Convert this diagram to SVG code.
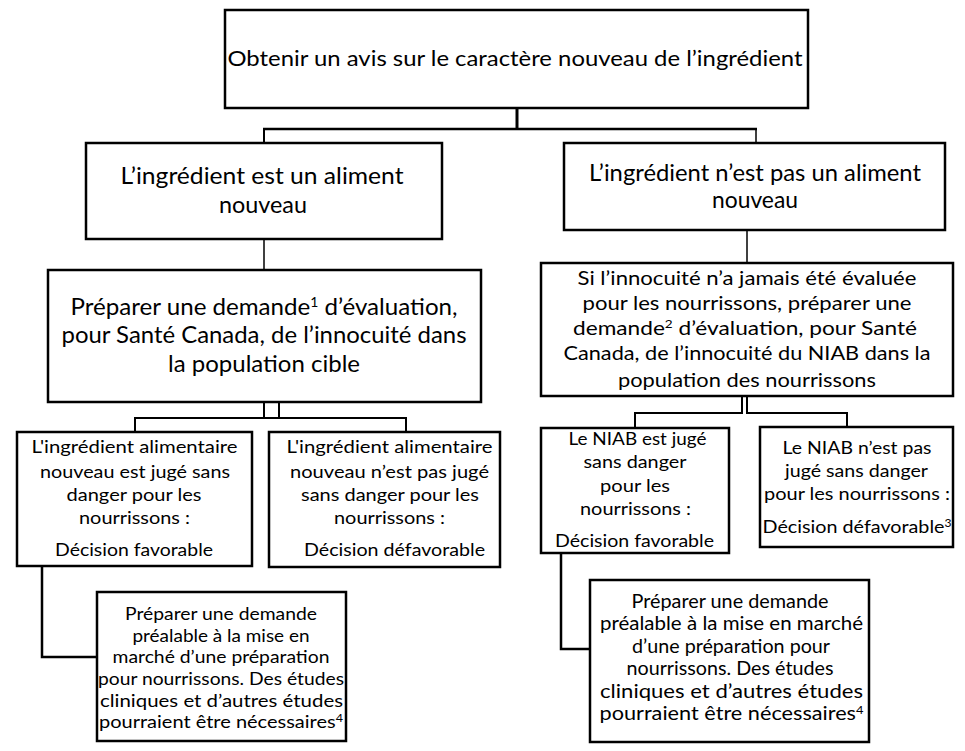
<svg xmlns="http://www.w3.org/2000/svg" width="965" height="751" viewBox="0 0 965 751">
<style>
.box{fill:#fff;stroke:#000;stroke-width:2.5}
.t{font-family:Lato,"Open Sans",sans-serif;fill:#000;text-anchor:middle}
.c{fill:none;stroke:#000;stroke-width:2}
.f21{font-size:21px}.f23{font-size:23px}.f225{font-size:22.5px}.f20{font-size:20px}.f18{font-size:18px}.f175{font-size:17.5px}.f185{font-size:18.5px}
</style>
<rect width="965" height="751" fill="#fff"/>
<g id="connectors">
<line class="c" x1="517" y1="108" x2="517" y2="129" style="stroke-width:3"/>
<line class="c" x1="263" y1="129" x2="757" y2="129" style="stroke-width:2.5"/>
<line class="c" x1="264" y1="129" x2="264" y2="143"/>
<line class="c" x1="756" y1="129" x2="756" y2="143" style="stroke-width:1.5"/>
<line class="c" x1="264" y1="239" x2="264" y2="270" style="stroke-width:1.5"/>
<line class="c" x1="747" y1="230" x2="747" y2="263" style="stroke-width:1.5"/>
<polyline class="c" points="264,402 264,418 135,418 135,432"/>
<polyline class="c" points="279,402 279,418 406,418 406,432"/>
<line class="c" x1="264" y1="418" x2="279" y2="418"/>
<polyline class="c" points="742,396 742,413 635,413 635,428"/>
<polyline class="c" points="747,396 747,413 847,413 847,427"/>
<polyline class="c" points="42,566 42,657 97,657" style="stroke-width:2.5"/>
<polyline class="c" points="561,553 561,649 590,649" style="stroke-width:2.5"/>
</g>
<g id="n1">
<rect class="box" x="225" y="10" width="583" height="98"/>
<text class="t f21" x="515" y="66" textLength="575" lengthAdjust="spacingAndGlyphs">Obtenir un avis sur le caractère nouveau de l’ingrédient</text>
</g>
<g id="n2a">
<rect class="box" x="86" y="143" width="356" height="96"/>
<text class="t f23" x="262" y="184" textLength="283" lengthAdjust="spacingAndGlyphs">L’ingrédient est un aliment</text>
<text class="t f23" x="263" y="213" textLength="88" lengthAdjust="spacingAndGlyphs">nouveau</text>
</g>
<g id="n2b">
<rect class="box" x="564" y="143" width="381" height="87"/>
<text class="t f23" x="755" y="181" textLength="332" lengthAdjust="spacingAndGlyphs">L’ingrédient n’est pas un aliment</text>
<text class="t f23" x="755" y="208" textLength="86" lengthAdjust="spacingAndGlyphs">nouveau</text>
</g>
<g id="n3a">
<rect class="box" x="48" y="270" width="433" height="132"/>
<text class="t f225" x="264" y="315" textLength="387" lengthAdjust="spacingAndGlyphs">Préparer une demande<tspan dy="-8" font-size="13">1</tspan><tspan dy="8"> d’évaluation,</tspan></text>
<text class="t f225" x="264" y="343" textLength="405" lengthAdjust="spacingAndGlyphs">pour Santé Canada, de l’innocuité dans</text>
<text class="t f225" x="264" y="372" textLength="192" lengthAdjust="spacingAndGlyphs">la population cible</text>
</g>
<g id="n3b">
<rect class="box" x="541" y="263" width="412" height="133"/>
<text class="t f20" x="747" y="285" textLength="339" lengthAdjust="spacingAndGlyphs">Si l’innocuité n’a jamais été évaluée</text>
<text class="t f20" x="747" y="310" textLength="329" lengthAdjust="spacingAndGlyphs">pour les nourrissons, préparer une</text>
<text class="t f20" x="745" y="335" textLength="344" lengthAdjust="spacingAndGlyphs">demande<tspan dy="-7" font-size="12">2</tspan><tspan dy="7"> d’évaluation, pour Santé</tspan></text>
<text class="t f20" x="747" y="360" textLength="367" lengthAdjust="spacingAndGlyphs">Canada, de l’innocuité du NIAB dans la</text>
<text class="t f20" x="747" y="387" textLength="258" lengthAdjust="spacingAndGlyphs">population des nourrissons</text>
</g>
<g id="n4a">
<rect class="box" x="17" y="432" width="235" height="134"/>
<text class="t f18" x="134.5" y="453" textLength="206" lengthAdjust="spacingAndGlyphs">L'ingrédient alimentaire</text>
<text class="t f18" x="135" y="478" textLength="190" lengthAdjust="spacingAndGlyphs">nouveau est jugé sans</text>
<text class="t f18" x="134" y="501" textLength="135" lengthAdjust="spacingAndGlyphs">danger pour les</text>
<text class="t f18" x="134.5" y="524" textLength="111" lengthAdjust="spacingAndGlyphs">nourrissons :</text>
<text class="t f18" x="134" y="556" textLength="158" lengthAdjust="spacingAndGlyphs">Décision favorable</text>
</g>
<g id="n4b">
<rect class="box" x="269" y="432" width="231" height="135"/>
<text class="t f18" x="389.5" y="453" textLength="206" lengthAdjust="spacingAndGlyphs">L'ingrédient alimentaire</text>
<text class="t f18" x="389.5" y="478" textLength="199" lengthAdjust="spacingAndGlyphs">nouveau n’est pas jugé</text>
<text class="t f18" x="390" y="501" textLength="178" lengthAdjust="spacingAndGlyphs">sans danger pour les</text>
<text class="t f18" x="389.5" y="524" textLength="111" lengthAdjust="spacingAndGlyphs">nourrissons :</text>
<text class="t f18" x="394.5" y="556" textLength="181" lengthAdjust="spacingAndGlyphs">Décision défavorable</text>
</g>
<g id="n4c">
<rect class="box" x="541" y="428" width="188" height="125"/>
<text class="t f18" x="637.5" y="445" textLength="138" lengthAdjust="spacingAndGlyphs">Le NIAB est jugé</text>
<text class="t f18" x="635" y="468" textLength="103" lengthAdjust="spacingAndGlyphs">sans danger</text>
<text class="t f18" x="635" y="492" textLength="70" lengthAdjust="spacingAndGlyphs">pour les</text>
<text class="t f18" x="635.5" y="515" textLength="111" lengthAdjust="spacingAndGlyphs">nourrissons :</text>
<text class="t f18" x="634.5" y="547" textLength="159" lengthAdjust="spacingAndGlyphs">Décision favorable</text>
</g>
<g id="n4d">
<rect class="box" x="760" y="427" width="193" height="120"/>
<text class="t f18" x="857" y="454" textLength="149" lengthAdjust="spacingAndGlyphs">Le NIAB n’est pas</text>
<text class="t f18" x="856.5" y="477" textLength="143" lengthAdjust="spacingAndGlyphs">jugé sans danger</text>
<text class="t f18" x="857" y="500" textLength="186" lengthAdjust="spacingAndGlyphs">pour les nourrissons :</text>
<text class="t f18" x="857" y="533" textLength="189" lengthAdjust="spacingAndGlyphs">Décision défavorable<tspan dy="-6" font-size="11">3</tspan></text>
</g>
<g id="n5a">
<rect class="box" x="97" y="592" width="249" height="149"/>
<text class="t f175" x="221" y="620" textLength="192" lengthAdjust="spacingAndGlyphs">Préparer une demande</text>
<text class="t f175" x="221" y="642" textLength="177" lengthAdjust="spacingAndGlyphs">préalable à la mise en</text>
<text class="t f175" x="221" y="663" textLength="217" lengthAdjust="spacingAndGlyphs">marché d’une préparation</text>
<text class="t f175" x="221" y="685" textLength="246" lengthAdjust="spacingAndGlyphs">pour nourrissons. Des études</text>
<text class="t f175" x="221.5" y="707" textLength="243" lengthAdjust="spacingAndGlyphs">cliniques et d’autres études</text>
<text class="t f175" x="221" y="728" textLength="244" lengthAdjust="spacingAndGlyphs">pourraient être nécessaires<tspan dy="-6" font-size="11">4</tspan></text>
</g>
<g id="n5b">
<rect class="box" x="590" y="580" width="279" height="162"/>
<text class="t f185" x="730" y="608" textLength="197" lengthAdjust="spacingAndGlyphs">Préparer une demande</text>
<text class="t f185" x="731.5" y="630" textLength="263" lengthAdjust="spacingAndGlyphs">préalable à la mise en marché</text>
<text class="t f185" x="731" y="653" textLength="198" lengthAdjust="spacingAndGlyphs">d’une préparation pour</text>
<text class="t f185" x="730" y="675" textLength="207" lengthAdjust="spacingAndGlyphs">nourrissons. Des études</text>
<text class="t f185" x="731.5" y="698" textLength="263" lengthAdjust="spacingAndGlyphs">cliniques et d’autres études</text>
<text class="t f185" x="731.5" y="720" textLength="264" lengthAdjust="spacingAndGlyphs">pourraient être nécessaires<tspan dy="-6" font-size="11">4</tspan></text>
</g>
</svg>
